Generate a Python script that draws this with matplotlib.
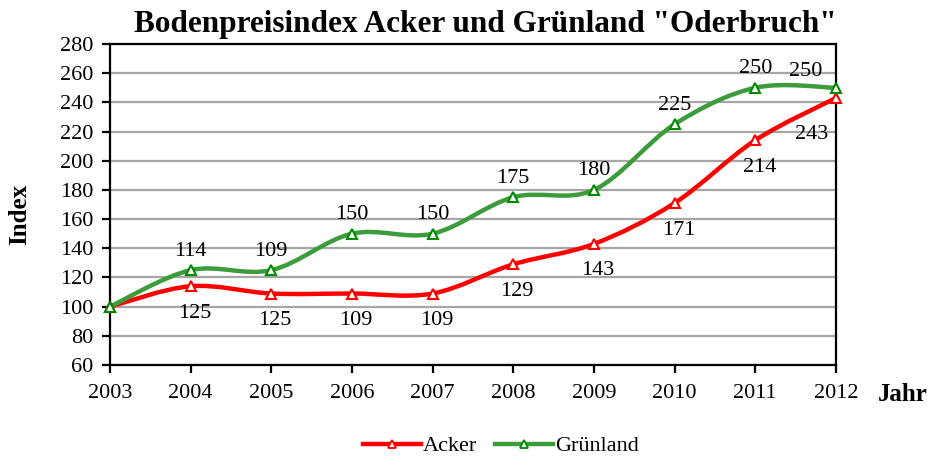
import matplotlib
matplotlib.use("Agg")
import matplotlib.pyplot as plt
from matplotlib.path import Path
from matplotlib.patches import PathPatch
from matplotlib.lines import Line2D

plt.rcParams['font.family'] = ['Liberation Serif', 'DejaVu Serif']

years = [2003, 2004, 2005, 2006, 2007, 2008, 2009, 2010, 2011, 2012]
acker = [100, 114, 109, 109, 109, 129, 143, 171, 214, 243]
gruenland = [100, 125, 125, 150, 150, 175, 180, 225, 250, 250]
# data labels as printed in the original chart
acker_labels = ["", "125", "125", "109", "109", "129", "143", "171", "214", "243"]
gruenland_labels = ["", "114", "109", "150", "150", "175", "180", "225", "250", "250"]

RED = "#ff0000"
GREEN = "#3c9c3c"
GREEN_EDGE = "#008a00"
FS = 16


def smooth_path(xs, ys):
    # Excel-like smoothed line: cubic bezier through the points
    pts = list(zip(xs, ys))
    n = len(pts)
    verts = [pts[0]]
    codes = [Path.MOVETO]
    for i in range(n - 1):
        p0 = pts[max(i - 1, 0)]
        p1 = pts[i]
        p2 = pts[i + 1]
        p3 = pts[min(i + 2, n - 1)]
        c1 = (p1[0] + (p2[0] - p0[0]) / 6, p1[1] + (p2[1] - p0[1]) / 6)
        c2 = (p2[0] - (p3[0] - p1[0]) / 6, p2[1] - (p3[1] - p1[1]) / 6)
        verts += [c1, c2, p2]
        codes += [Path.CURVE4] * 3
    return Path(verts, codes)


fig = plt.figure(figsize=(9.35, 4.57), dpi=100)
ax = fig.add_axes([0.1176, 0.2013, 0.7764, 0.7024])

ax.set_xlim(years[0], years[-1])
ax.set_ylim(60, 280)
ax.set_yticks(range(60, 281, 20))
ax.set_xticks(years)
ax.yaxis.grid(True, color="#a6a6a6", linewidth=1.6)
ax.set_axisbelow(True)
for s in ax.spines.values():
    s.set_linewidth(1.6)
    s.set_color("black")
ax.tick_params(axis="both", direction="out", length=6, width=1.6, labelsize=FS)
ax.tick_params(axis="y", pad=6)
ax.tick_params(axis="x", pad=8)

for vals, col, edge in [(acker, RED, RED), (gruenland, GREEN, GREEN_EDGE)]:
    ax.add_patch(PathPatch(smooth_path(years, vals), facecolor="none", edgecolor=col,
                           linewidth=3.2, capstyle="round", zorder=3, clip_on=False))
    ax.plot(years, vals, linestyle="none", marker="^", markersize=6.5, markerfacecolor="white",
            markeredgecolor=edge, markeredgewidth=1.5, zorder=4, clip_on=False)

# label offsets in pixels
for i, (x, y, lab) in enumerate(zip(years, gruenland, gruenland_labels)):
    if not lab:
        continue
    off = (-30, 16) if i == len(years) - 1 else (0, 19)
    ax.annotate(lab, (x, y), xytext=off, textcoords="offset pixels",
                ha="center", va="center", fontsize=FS, zorder=5)
for i, (x, y, lab) in enumerate(zip(years, acker, acker_labels)):
    if not lab:
        continue
    off = (-24, -37) if i == len(years) - 1 else (4, -27)
    ax.annotate(lab, (x, y), xytext=off, textcoords="offset pixels",
                ha="center", va="center", fontsize=FS, zorder=5)

fig.text(0.519, 0.947, 'Bodenpreisindex Acker und Grünland "Oderbruch"',
         ha="center", va="center", fontsize=22.5, fontweight="bold")
fig.text(0.021, 0.53, "Index", rotation=90, ha="center", va="center",
         fontsize=18, fontweight="bold")
fig.text(0.965, 0.136, "Jahr", ha="center", va="center", fontsize=18, fontweight="bold")

handles = [
    Line2D([], [], color=RED, linewidth=3.2, marker="^", markersize=6,
           markerfacecolor="white", markeredgecolor=RED, markeredgewidth=1.3),
    Line2D([], [], color=GREEN, linewidth=3.2, marker="^", markersize=6,
           markerfacecolor="white", markeredgecolor=GREEN_EDGE, markeredgewidth=1.3),
]
fig.legend(handles, ["Acker", "Grünland"], loc="center", bbox_to_anchor=(0.536, 0.024),
           ncol=2, frameon=False, fontsize=FS, handlelength=2.6, handletextpad=0.1,
           columnspacing=0.8, borderpad=0, borderaxespad=0)

fig.savefig("out.png", dpi=100)
